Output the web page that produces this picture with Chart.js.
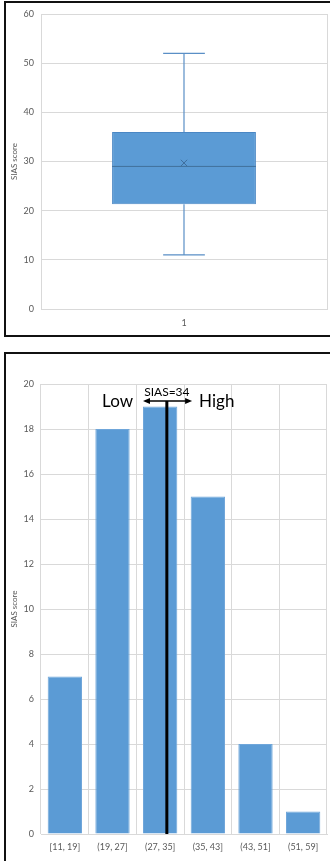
<!DOCTYPE html>
<html>
<head>
<meta charset="utf-8">
<script src="https://cdn.jsdelivr.net/npm/chart.js@4/dist/chart.umd.min.js"></script>
<style>
  html, body { margin: 0; padding: 0; background: #fff; overflow: hidden; }
  body { width: 330px; height: 861px; position: relative; }
  .wrap { position: absolute; left: 0; width: 330px; }
  #boxWrap { top: 0; height: 345px; }
  #histWrap { top: 345px; height: 516px; }
  .frame { position: absolute; box-sizing: border-box; border: 2px solid #111; pointer-events: none; }
  #frameTop { left: 4px; top: 1px; width: 340px; height: 336px; }
  #frameBottom { left: 4px; top: 352px; width: 340px; height: 530px; }
</style>
</head>
<body>
<div class="wrap" id="boxWrap"><canvas id="boxChart"></canvas></div>
<div class="wrap" id="histWrap"><canvas id="histChart"></canvas></div>
<div class="frame" id="frameTop"></div>
<div class="frame" id="frameBottom"></div>
<script>
// 上：箱ひげ図（SIAS score の分布）
const BOX_LABELS = ["1"];
const BOX_MIN = [11];
const BOX_Q1 = [21.3];
const BOX_MEDIAN = [29];
const BOX_Q3 = [36];
const BOX_MAX = [52];
const BOX_MEAN = [29.7];

// 下：ヒストグラム
const HIST_BINS = ["[11, 19]", "(19, 27]", "(27, 35]", "(35, 43]", "(43, 51]", "(51, 59]"];
const HIST_COUNTS = [7, 18, 19, 15, 4, 1];

// しきい値マーカー（カテゴリ軸上の位置）
const CUT_LABEL = "SIAS=34";
const CUT_POS = 2.14;
const CUT_TOP = 19.25;
const ARROW_FROM = 1.64;
const ARROW_TO = 2.67;

const BLUE = "#5b9bd5";
const GRID = "#d9d9d9";
const TICK = "#595959";
const FONT = "Lato, 'Liberation Sans', sans-serif";

Chart.defaults.font.family = FONT;
Chart.defaults.animation = false;

const whiteBg = {
  id: "whiteBg",
  beforeDraw(chart) {
    const { ctx } = chart;
    ctx.save();
    ctx.fillStyle = "#fff";
    ctx.fillRect(0, 0, chart.width, chart.height);
    ctx.restore();
  },
};

// 箱の上に ひげ・中央値・平均(×) を描く
const boxExtras = {
  id: "boxExtras",
  afterDatasetsDraw(chart) {
    const { ctx, scales } = chart;
    const meta = chart.getDatasetMeta(0);
    ctx.save();
    meta.data.forEach((bar, i) => {
      const x = bar.x;
      const half = bar.width / 2;
      const cap = bar.width * 0.145;
      const y = (v) => scales.y.getPixelForValue(v);

      ctx.strokeStyle = "#5a8fc6";
      ctx.lineWidth = 1.2;
      ctx.beginPath();
      ctx.moveTo(x, y(BOX_MAX[i])); ctx.lineTo(x, y(BOX_Q3[i]));
      ctx.moveTo(x, y(BOX_Q1[i])); ctx.lineTo(x, y(BOX_MIN[i]));
      ctx.moveTo(x - cap, y(BOX_MAX[i])); ctx.lineTo(x + cap, y(BOX_MAX[i]));
      ctx.moveTo(x - cap, y(BOX_MIN[i])); ctx.lineTo(x + cap, y(BOX_MIN[i]));
      ctx.stroke();

      ctx.strokeStyle = "#41719c";
      ctx.lineWidth = 1;
      ctx.beginPath();
      ctx.moveTo(x - half, y(BOX_MEDIAN[i])); ctx.lineTo(x + half, y(BOX_MEDIAN[i]));
      ctx.stroke();

      const my = y(BOX_MEAN[i]);
      const s = 3.2;
      ctx.strokeStyle = "#3f6f9e";
      ctx.beginPath();
      ctx.moveTo(x - s, my - s); ctx.lineTo(x + s, my + s);
      ctx.moveTo(x + s, my - s); ctx.lineTo(x - s, my + s);
      ctx.stroke();
    });
    ctx.restore();
  },
};

// 縦線・両矢印・ラベル
const cutMarker = {
  id: "cutMarker",
  afterDatasetsDraw(chart) {
    const { ctx, scales } = chart;
    const x = scales.x.getPixelForValue(CUT_POS);
    const yTop = scales.y.getPixelForValue(CUT_TOP);
    const yBot = scales.y.getPixelForValue(0);
    const x1 = scales.x.getPixelForValue(ARROW_FROM);
    const x2 = scales.x.getPixelForValue(ARROW_TO);

    ctx.save();
    ctx.strokeStyle = "#000";
    ctx.fillStyle = "#000";
    ctx.lineWidth = 3;
    ctx.beginPath();
    ctx.moveTo(x, yTop); ctx.lineTo(x, yBot);
    ctx.stroke();

    ctx.lineWidth = 1.5;
    ctx.beginPath();
    ctx.moveTo(x1 + 4, yTop); ctx.lineTo(x2 - 4, yTop);
    ctx.stroke();
    const head = (px, dir) => {
      ctx.beginPath();
      ctx.moveTo(px, yTop);
      ctx.lineTo(px - dir * 7, yTop - 3);
      ctx.lineTo(px - dir * 7, yTop + 3);
      ctx.closePath();
      ctx.fill();
    };
    head(x1, -1);
    head(x2, 1);

    ctx.textBaseline = "middle";
    ctx.font = "12px " + FONT;
    ctx.textAlign = "center";
    ctx.fillText(CUT_LABEL, x, yTop - 9);

    ctx.font = "17px " + FONT;
    ctx.textAlign = "right";
    ctx.fillText("Low", x1 - 10, yTop + 1);
    ctx.textAlign = "left";
    ctx.fillText("High", x2 + 7, yTop + 1);
    ctx.restore();
  },
};

function yScale(max, step, width) {
  return {
    min: 0,
    max,
    ticks: { stepSize: step, color: TICK, font: { size: 9 }, padding: 7 },
    grid: { color: GRID, drawTicks: false },
    border: { display: false },
    title: { display: true, text: "SIAS score", color: TICK, font: { size: 8 }, padding: { top: 10, bottom: 0 } },
    afterFit(scale) { scale.width = width; },
  };
}

function xScale(height, pad) {
  return {
    ticks: { color: TICK, font: { size: 9 }, padding: pad },
    grid: { color: GRID, drawTicks: false, offset: true },
    border: { color: GRID },
    afterFit(scale) { scale.height = height; },
  };
}

new Chart(document.getElementById("boxChart"), {
  type: "bar",
  data: {
    labels: BOX_LABELS,
    datasets: [{
      data: BOX_Q1.map((q1, i) => [q1, BOX_Q3[i]]),
      backgroundColor: BLUE,
      borderColor: "#4a87c4",
      borderWidth: 1,
      borderSkipped: false,
      categoryPercentage: 1,
      barPercentage: 0.503,
    }],
  },
  plugins: [whiteBg, boxExtras],
  options: {
    responsive: true,
    maintainAspectRatio: false,
    layout: { padding: { top: 14, right: 3, left: 0, bottom: 0 } },
    plugins: { legend: { display: false }, tooltip: { enabled: false } },
    scales: { x: xScale(36, 9), y: yScale(60, 10, 41) },
  },
});

new Chart(document.getElementById("histChart"), {
  type: "bar",
  data: {
    labels: HIST_BINS,
    datasets: [{
      data: HIST_COUNTS,
      backgroundColor: BLUE,
      borderColor: "#6fa6da",
      borderWidth: 1,
      categoryPercentage: 1,
      barPercentage: 0.72,
    }],
  },
  plugins: [whiteBg, cutMarker],
  options: {
    responsive: true,
    maintainAspectRatio: false,
    layout: { padding: { top: 39, right: 3, left: 0, bottom: 0 } },
    plugins: { legend: { display: false }, tooltip: { enabled: false } },
    scales: { x: xScale(27, 8), y: yScale(20, 2, 41) },
  },
});
</script>
</body>
</html>
